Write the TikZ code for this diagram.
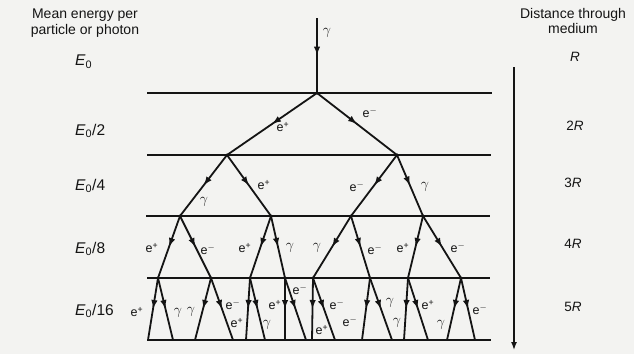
\documentclass[tikz,border=0pt]{standalone}
\usepackage{fontspec}
\setmainfont{Liberation Sans}
\usetikzlibrary{arrows.meta,decorations.markings}
\definecolor{paper}{RGB}{243,243,241}
\definecolor{ink}{RGB}{20,20,20}
\newcommand{\pos}{e\textsuperscript{+}}
\newcommand{\ele}{e\textsuperscript{$-$}}
\newcommand{\gam}{{\fontsize{14}{14}\selectfont$\gamma$}}
\begin{document}
\begin{tikzpicture}[x=1pt,y=-1pt,
  track/.style={ink, line width=1.8pt, postaction={decorate},
    decoration={markings, mark=at position 0.5 with {\arrow{Latex[length=9pt,width=6.5pt]}}}},
  layer/.style={ink, line width=1.8pt},
  lbl/.style={ink, font=\fontsize{12.5}{13}\selectfont, inner sep=0pt},
  head/.style={ink, font=\fontsize{14}{15.5}\selectfont, align=center, inner sep=0pt},
  elbl/.style={ink, font=\fontsize{15.5}{16}\selectfont, anchor=west, inner sep=0pt},
  rlbl/.style={ink, font=\fontsize{13.5}{14}\selectfont, inner sep=0pt},
  vtx/.style={ink, circle, fill, inner sep=0pt, minimum size=3.5pt}
]
\fill[paper] (0,0) rectangle (634,354);
\useasboundingbox (0,0) rectangle (634,354);

% layer lines
\coordinate (h1a) at (147,93);  \coordinate (h1b) at (492,93);
\coordinate (h2a) at (147,155); \coordinate (h2b) at (491,155);
\coordinate (h3a) at (146,216); \coordinate (h3b) at (490,216);
\coordinate (h4a) at (147,278); \coordinate (h4b) at (490,278);
\coordinate (h5a) at (147,340); \coordinate (h5b) at (491,340);
\foreach \i in {1,...,5} {\draw[layer] (h\i a) -- (h\i b);}

% vertices
\coordinate (top) at (317,18);
\coordinate (v0) at (317,93);
\coordinate (a1) at (227,155); \coordinate (a2) at (397,155);
\coordinate (b1) at (180,216); \coordinate (b2) at (271,216);
\coordinate (b3) at (351,216); \coordinate (b4) at (423,216);
\coordinate (c1) at (158,278); \coordinate (c2) at (211,278);
\coordinate (c3) at (250,278); \coordinate (c4) at (285,278);
\coordinate (c5) at (313,278); \coordinate (c6) at (370,278);
\coordinate (c7) at (408,278); \coordinate (c8) at (461,278);
% end points
\coordinate (d1) at (148,340); \coordinate (d2) at (173,340);
\coordinate (d3) at (195,340); \coordinate (d4) at (233,340);
\coordinate (d5) at (246,340); \coordinate (d6) at (265,340);
\coordinate (d7) at (285,340); \coordinate (d8) at (306,340);
\coordinate (d9) at (312,340); \coordinate (d10) at (335,340);
\coordinate (d11) at (362,340); \coordinate (d12) at (392,340);
\coordinate (d13) at (404,340); \coordinate (d14) at (428,340);
\coordinate (d15) at (447,340); \coordinate (d16) at (475,340);

% tracks
\draw[track] (top) -- (v0);
\draw[track] (v0) -- (a1);
\draw[track] (v0) -- (a2);
\draw[track] (a1) -- (b1);
\draw[track] (a1) -- (b2);
\draw[track] (a2) -- (b3);
\draw[track] (a2) -- (b4);
\draw[track] (b1) -- (c1);
\draw[track] (b1) -- (c2);
\draw[track] (b2) -- (c3);
\draw[track] (b2) -- (c4);
\draw[track] (b3) -- (c5);
\draw[track] (b3) -- (c6);
\draw[track] (b4) -- (c7);
\draw[track] (b4) -- (c8);
\draw[track] (c1) -- (d1);
\draw[track] (c1) -- (d2);
\draw[track] (c2) -- (d3);
\draw[track] (c2) -- (d4);
\draw[track] (c3) -- (d5);
\draw[track] (c3) -- (d6);
\draw[track] (c4) -- (d7);
\draw[track] (c4) -- (d8);
\draw[track] (c5) -- (d9);
\draw[track] (c5) -- (d10);
\draw[track] (c6) -- (d11);
\draw[track] (c6) -- (d12);
\draw[track] (c7) -- (d13);
\draw[track] (c7) -- (d14);
\draw[track] (c8) -- (d15);
\draw[track] (c8) -- (d16);

\foreach \v in {v0,a1,a2,b1,b2,b3,b4,c1,c2,c3,c4,c5,c6,c7,c8}
  {\node[vtx] at (\v) {};}

% particle labels
\node[lbl] (t0) at (327,33) {\gam};
\node[lbl] (l1) at (283,127) {\pos};
\node[lbl] (l2) at (370,113) {\ele};
\node[lbl] (l3) at (204,202) {\gam};
\node[lbl] (l4) at (264,185) {\pos};
\node[lbl] (l5) at (357,187) {\ele};
\node[lbl] (l6) at (425,187) {\gam};
\node[lbl] (m1) at (152,248) {\pos};
\node[lbl] (m2) at (208,250) {\ele};
\node[lbl] (m3) at (245,248) {\pos};
\node[lbl] (m4) at (290,248) {\gam};
\node[lbl] (m5) at (317,248) {\gam};
\node[lbl] (m6) at (375,250) {\ele};
\node[lbl] (m7) at (403,248) {\pos};
\node[lbl] (m8) at (458,248) {\ele};
\node[lbl] (n1) at (137,312) {\pos};
\node[lbl] (n2) at (178,313) {\gam};
\node[lbl] (n3) at (191,312) {\gam};
\node[lbl] (n4) at (233,305) {\ele};
\node[lbl] (n5) at (237,323) {\pos};
\node[lbl] (n6) at (267,325) {\gam};
\node[lbl] (n7) at (275,305) {\pos};
\node[lbl] (n8) at (300,290) {\ele};
\node[lbl] (n9) at (337,305) {\ele};
\node[lbl] (n10) at (322,330) {\pos};
\node[lbl] (n11) at (350,322) {\ele};
\node[lbl] (n12) at (390,303) {\gam};
\node[lbl] (n13) at (397,323) {\gam};
\node[lbl] (n14) at (428,305) {\pos};
\node[lbl] (n15) at (441,325) {\gam};
\node[lbl] (n16) at (480,310) {\ele};

% left column
\node[head] (lefthead) at (85,23) {Mean energy per\\particle or photon};
\node[elbl] (e1) at (75,62) {\textit{E}\textsubscript{0}};
\node[elbl] (e2) at (75,131) {\textit{E}\textsubscript{0}/2};
\node[elbl] (e3) at (75,186) {\textit{E}\textsubscript{0}/4};
\node[elbl] (e4) at (75,249) {\textit{E}\textsubscript{0}/8};
\node[elbl] (e5) at (75,311) {\textit{E}\textsubscript{0}/16};

% right column
\node[head] (righthead) at (573,21) {Distance through\\medium};
\node[rlbl] (r1) at (575,57) {\textit{R}};
\node[rlbl] (r2) at (575,126) {2\textit{R}};
\node[rlbl] (r3) at (573,183) {3\textit{R}};
\node[rlbl] (r4) at (573,244) {4\textit{R}};
\node[rlbl] (r5) at (573,307) {5\textit{R}};
\coordinate (ax1) at (514,67);
\coordinate (ax2) at (514,350);
\draw[ink, line width=1.4pt, -{Latex[length=8pt,width=6pt]}] (ax1) -- (ax2);
\end{tikzpicture}
\end{document}
